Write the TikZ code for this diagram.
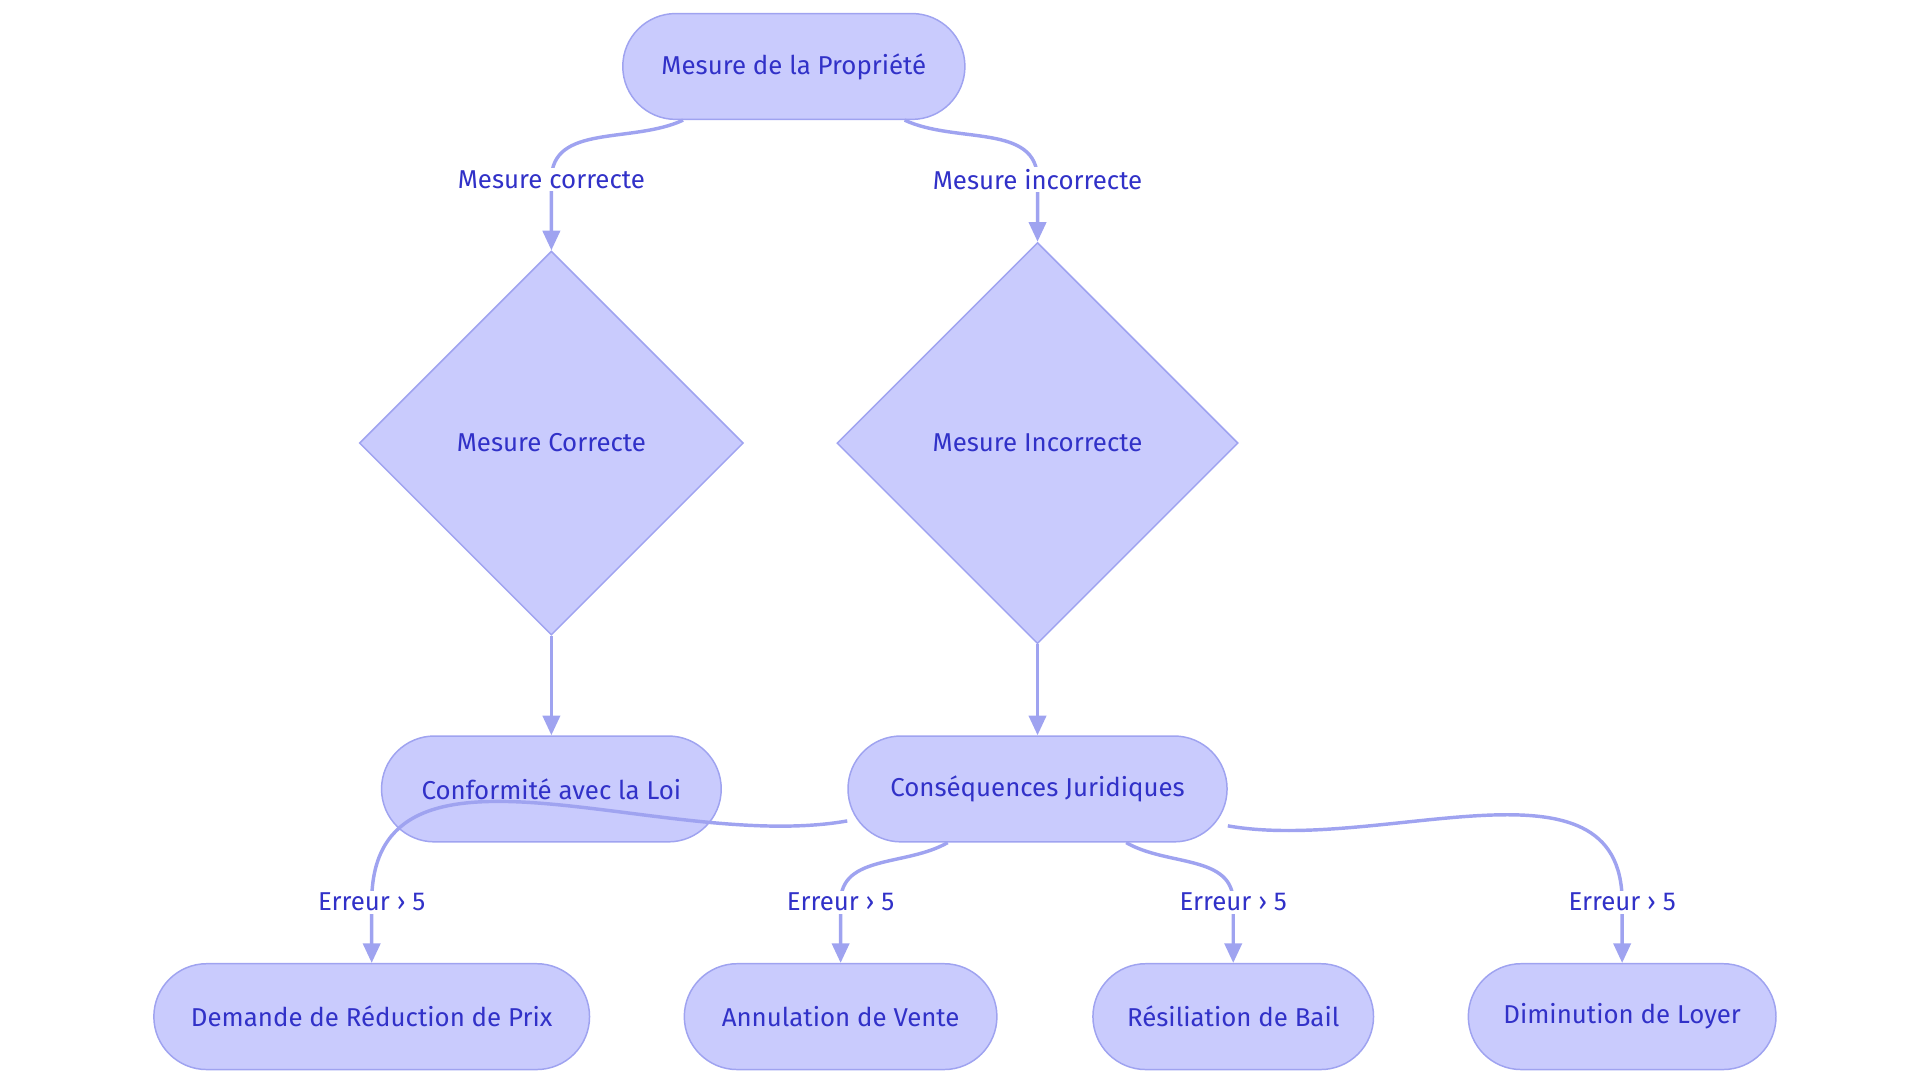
\documentclass[tikz,border=0pt]{standalone}
\usepackage{fontspec}
\setmainfont{Fira Sans}
\usetikzlibrary{shapes.misc,shapes.geometric,arrows.meta,calc}
\definecolor{boxfill}{HTML}{C9CBFD}
\definecolor{boxline}{HTML}{9FA3F0}
\definecolor{boxtext}{HTML}{3131C8}
\tikzset{
  stadium/.style={rounded rectangle, draw=boxline, fill=boxfill, line width=0.6pt,
    text=boxtext, minimum height=43pt, inner sep=0pt, font=\fontsize{10.5}{12}\selectfont},
  choice/.style={diamond, draw=boxline, fill=boxfill, line width=0.6pt, aspect=1,
    text=boxtext, inner sep=0pt, font=\fontsize{10.5}{12}\selectfont},
  edge/.style={draw=boxline, line width=1.4pt, -{Triangle[width=7pt,length=8pt]}},
  edgelabel/.style={fill=white, text=boxtext, inner sep=1pt, font=\fontsize{10.5}{12}\selectfont}
}
\begin{document}
\begin{tikzpicture}[x=0.5pt,y=-0.5pt]
\useasboundingbox (0,0) rectangle (1560,880);

% nodes
\node[stadium, minimum width=139pt] (mesure) at (645,54) {Mesure de la Propriété};
\node[choice, minimum width=156pt, minimum height=156pt] (correcte) at (448,360) {Mesure Correcte};
\node[choice, minimum width=163pt, minimum height=163pt] (incorrecte) at (843,360) {Mesure Incorrecte};
\node[stadium, minimum width=138pt] (loi) at (448,641) {Conformité avec la Loi};
\node[stadium, minimum width=154pt] (juridique) at (843,641) {Conséquences Juridiques};
\node[stadium, minimum width=177pt] (prix) at (302,826) {Demande de Réduction de Prix};
\node[stadium, minimum width=127pt] (vente) at (683,826) {Annulation de Vente};
\node[stadium, minimum width=114pt] (bail) at (1002,826) {Résiliation de Bail};
\node[stadium, minimum width=125pt] (loyer) at (1318,826) {Diminution de Loyer};

% label positions
\coordinate (lc) at (448,146);
\coordinate (li) at (843,146);
\coordinate (e1) at (302,733);
\coordinate (e2) at (683,733);
\coordinate (e3) at (1002,733);
\coordinate (e4) at (1318,733);

% connectors
\draw[edge] ($(mesure.south)+(-90,0)$) to[out=-155,in=90] (lc) to[out=-90,in=90] (correcte.north);
\draw[edge] ($(mesure.south)+(90,0)$) to[out=-25,in=90] (li) to[out=-90,in=90] (incorrecte.north);
\draw[edge] (correcte.south) -- (loi.north);
\draw[edge] (incorrecte.south) -- (juridique.north);
\draw[edge] ($(juridique.west)+(0,26)$) to[out=190,in=90] (e1) to[out=-90,in=90] (prix.north);
\draw[edge] ($(juridique.south)+(-73,0)$) to[out=-150,in=90] (e2) to[out=-90,in=90] (vente.north);
\draw[edge] ($(juridique.south)+(72,0)$) to[out=-30,in=90] (e3) to[out=-90,in=90] (bail.north);
\draw[edge] ($(juridique.east)+(0,30)$) to[out=-10,in=90] (e4) to[out=-90,in=90] (loyer.north);

% edge labels
\node[edgelabel] at (lc) {Mesure correcte};
\node[edgelabel] at (li) {Mesure incorrecte};
\foreach \e in {e1,e2,e3,e4}
  \node[edgelabel] at (\e) {Erreur › 5};
\end{tikzpicture}
\end{document}
